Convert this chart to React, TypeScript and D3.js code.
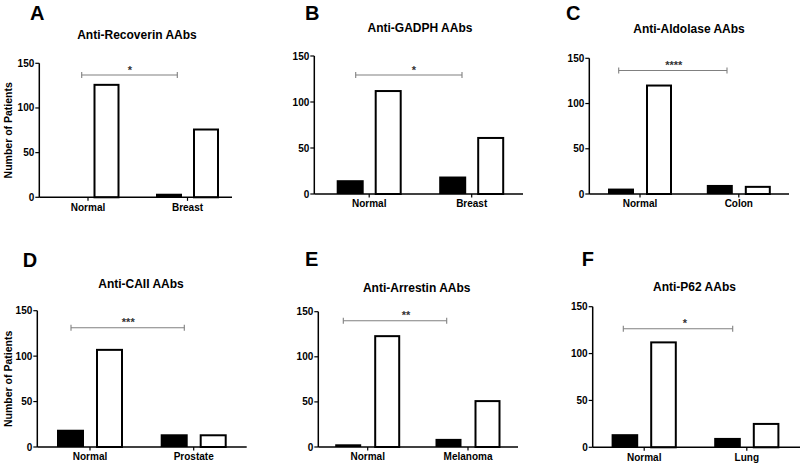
import React from 'react';
import * as d3 from 'd3';

const letters = ['A', 'B', 'C', 'D', 'E', 'F'];
const titles = ['Anti-Recoverin AAbs', 'Anti-GADPH AAbs', 'Anti-Aldolase AAbs', 'Anti-CAII AAbs', 'Anti-Arrestin AAbs', 'Anti-P62 AAbs'];
const categories = [
  ['Normal', 'Breast'],
  ['Normal', 'Breast'],
  ['Normal', 'Colon'],
  ['Normal', 'Prostate'],
  ['Normal', 'Melanoma'],
  ['Normal', 'Lung'],
];
const positiveCounts = [[0, 4], [15, 19], [6, 10], [19, 14], [3, 9], [14, 10]];
const negativeCounts = [[127, 77], [113, 62], [121, 9], [108, 14], [124, 52], [113, 26]];
const significance = ['*', '*', '****', '***', '**', '*'];
const yTicks = [0, 50, 100, 150];
const yLabel = 'Number of Patients';

// layout (pixel geometry of each panel)
const layout = [
  { ax: 39.3, top: 63.3, bot: 197.3, xEnd: 232, c: [88, 187.5], bw: 26, gap: 11, br: [81.7, 177.3, 75], sx: 0.5, title: [137, 39], letter: [30, 19.5], ylab: true },
  { ax: 314.3, top: 56, bot: 194, xEnd: 523, c: [369.2, 471.7], bw: 27, gap: 11, br: [355.7, 462, 75], sx: 5, title: [420, 32.3], letter: [305, 19.5], ylab: false },
  { ax: 589.3, top: 58.3, bot: 194, xEnd: 789, c: [640, 738.8], bw: 26, gap: 12, br: [618.7, 727, 70.5], sx: 1, title: [689, 33.3], letter: [566, 19.5], ylab: false },
  { ax: 37.3, top: 310.7, bot: 447, xEnd: 246.7, c: [90, 193.7], bw: 27, gap: 12, br: [71, 184.3, 327.7], sx: 0.6, title: [141, 288.3], letter: [22.7, 266.7], ylab: true },
  { ax: 318.3, top: 311.7, bot: 447, xEnd: 518, c: [367.7, 468], bw: 26, gap: 13, br: [343.3, 446.7, 320.7], sx: 11, title: [416.7, 291.7], letter: [305, 266.3], ylab: false },
  { ax: 592.7, top: 306.7, bot: 447.3, xEnd: 800, c: [644.2, 746.8], bw: 26.6, gap: 12, br: [623.3, 732.7, 328.7], sx: 7, title: [694.5, 290.7], letter: [581.7, 266.3], ylab: false },
];

const FONT = "'Liberation Sans', Arial, Helvetica, sans-serif";

function Panel({ i }: { i: number }) {
  const L = layout[i];
  const y = d3.scaleLinear().domain([0, 150]).range([L.bot, L.top]);
  const x = d3.scalePoint<string>().domain(categories[i]).range([L.c[0], L.c[1]]);
  const G = 2 * L.bw + L.gap;
  const inner = d3.scaleBand<string>().domain(['pos', 'neg']).range([-G / 2, G / 2]).paddingInner(L.gap / (L.bw + L.gap)).paddingOuter(0);
  const series = [
    { key: 'pos', vals: positiveCounts[i] },
    { key: 'neg', vals: negativeCounts[i] },
  ];
  const [bx1, bx2, by] = L.br;
  return (
    <g fontFamily={FONT}>
      <text x={L.letter[0]} y={L.letter[1]} fontSize={20} fontWeight="bold">{letters[i]}</text>
      <text x={L.title[0]} y={L.title[1]} fontSize={12} fontWeight="bold" textAnchor="middle">{titles[i]}</text>
      {L.ylab && (
        <text transform={`translate(12,${(L.top + L.bot) / 2}) rotate(-90)`} fontSize={10.5} fontWeight="bold" textAnchor="middle">{yLabel}</text>
      )}
      {series.map((s) =>
        categories[i].map((cat, j) => {
          const v = s.vals[j];
          const x0 = (x(cat) as number) + (inner(s.key) as number);
          const h = L.bot - y(v);
          if (v <= 0) return null;
          return s.key === 'pos' ? (
            <rect key={s.key + j} x={x0} y={y(v)} width={inner.bandwidth()} height={h} fill="#000" />
          ) : (
            <rect key={s.key + j} x={x0 + 1} y={y(v) + 1} width={inner.bandwidth() - 2} height={Math.max(h - 1, 0)} fill="#fff" stroke="#000" strokeWidth={2} />
          );
        })
      )}
      {/* y axis */}
      <line x1={L.ax} x2={L.ax} y1={L.top} y2={L.bot} stroke="#000" strokeWidth={1.5} />
      {yTicks.map((t) => (
        <g key={t}>
          <line x1={L.ax - 4} x2={L.ax} y1={y(t)} y2={y(t)} stroke="#000" strokeWidth={1.2} />
          <text x={L.ax - 5} y={y(t)} dy="0.35em" fontSize={10} fontWeight="bold" textAnchor="end">{t}</text>
        </g>
      ))}
      {/* x axis */}
      <line x1={L.ax} x2={L.xEnd} y1={L.bot} y2={L.bot} stroke="#000" strokeWidth={1.5} />
      {categories[i].map((cat) => (
        <g key={cat}>
          <line x1={x(cat)} x2={x(cat)} y1={L.bot} y2={L.bot + 3.5} stroke="#000" strokeWidth={1.2} />
          <text x={x(cat)} y={L.bot + 13.3} fontSize={10} fontWeight="bold" textAnchor="middle">{cat}</text>
        </g>
      ))}
      {/* significance bracket */}
      <g stroke="#808080" strokeWidth={1.1}>
        <line x1={bx1} x2={bx2} y1={by} y2={by} />
        <line x1={bx1} x2={bx1} y1={by - 3} y2={by + 3} />
        <line x1={bx2} x2={bx2} y1={by - 3} y2={by + 3} />
      </g>
      <text x={(bx1 + bx2) / 2 + L.sx} y={by - 1.5} fontSize={11} fontWeight="bold" textAnchor="middle" fill="#333">{significance[i]}</text>
    </g>
  );
}

export default function App() {
  return (
    <svg width={800} height={464} style={{ position: 'absolute', left: 0, top: 0, background: '#fff' }}>
      <rect width={800} height={464} fill="#fff" />
      {letters.map((_, i) => (
        <Panel key={i} i={i} />
      ))}
    </svg>
  );
}
